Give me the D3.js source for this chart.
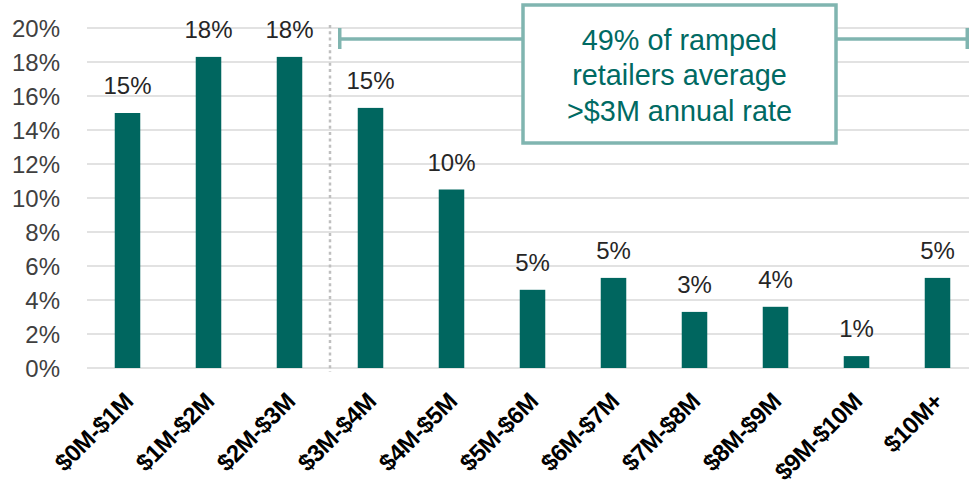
<!DOCTYPE html>
<html>
<head>
<meta charset="utf-8">
<script src="https://cdn.jsdelivr.net/npm/d3@7"></script>
<style>
  body { margin: 0; background: #fff; }
  svg { display: block; font-family: "Liberation Sans", Arial, sans-serif; }
</style>
</head>
<body>
<svg id="chart"></svg>
<script>
// revenue bands and share of ramped retailers
var categories = ["$0M-$1M", "$1M-$2M", "$2M-$3M", "$3M-$4M", "$4M-$5M", "$5M-$6M",
                  "$6M-$7M", "$7M-$8M", "$8M-$9M", "$9M-$10M", "$10M+"]
var shares = [0.150, 0.183, 0.183, 0.153, 0.105, 0.046, 0.053, 0.033, 0.036, 0.007, 0.053]
var shareLabels = ["15%", "18%", "18%", "15%", "10%", "5%", "5%", "3%", "4%", "1%", "5%"]
var yTicks = [0, 0.02, 0.04, 0.06, 0.08, 0.10, 0.12, 0.14, 0.16, 0.18, 0.20]
var calloutLines = ["49% of ramped", "retailers average", ">$3M annual rate"]

var dimensions = {
    width: 969,
    height: 487,
    margin: { top: 28, bottom: 119, left: 87, right: -9 }
}

var barColor = "#00665f"
var accent = "#80b5b0"

var svg = d3.select("#chart")
            .attr("width", dimensions.width)
            .attr("height", dimensions.height)

var xScale = d3.scaleBand()
               .domain(categories)
               .range([dimensions.margin.left, dimensions.width - dimensions.margin.right])
               .paddingInner(0.685)
               .paddingOuter(0.3425)
var yScale = d3.scaleLinear()
               .domain([0, 0.20])
               .range([dimensions.height - dimensions.margin.bottom, dimensions.margin.top])

// gridlines
svg.append("g")
   .selectAll("line")
   .data(yTicks)
   .enter()
   .append("line")
   .attr("x1", dimensions.margin.left)
   .attr("x2", dimensions.width)
   .attr("y1", d => yScale(d))
   .attr("y2", d => yScale(d))
   .attr("stroke", "#d9d9d9")
   .attr("stroke-width", 1.5)

// y axis labels
var yAxisGen = d3.axisLeft(yScale)
                 .tickValues(yTicks)
                 .tickFormat(d3.format(".0%"))
                 .tickSize(0)
                 .tickPadding(27)
var yAxis = svg.append("g")
               .attr("transform", `translate(${dimensions.margin.left},0)`)
               .call(yAxisGen)
yAxis.select(".domain").remove()
yAxis.selectAll("text")
     .attr("font-family", "Liberation Sans, Arial, sans-serif")
     .attr("font-size", 24)
     .attr("fill", "#404040")
     .attr("dy", "0.36em")

// divider between <$3M and >$3M
var split = categories.indexOf("$3M-$4M")
var dividerX = (xScale(categories[split - 1]) + xScale.bandwidth() + xScale(categories[split])) / 2
svg.append("line")
   .attr("x1", dividerX)
   .attr("x2", dividerX)
   .attr("y1", yScale(0.20) - 3)
   .attr("y2", yScale(0) + 4)
   .attr("stroke", "#bfbfbf")
   .attr("stroke-width", 2.5)
   .attr("stroke-dasharray", "3,3.3")

// bars
svg.append("g")
   .selectAll("rect")
   .data(shares)
   .enter()
   .append("rect")
   .attr("x", (d, i) => xScale(categories[i]))
   .attr("y", d => yScale(d))
   .attr("width", xScale.bandwidth())
   .attr("height", d => yScale(0) - yScale(d))
   .attr("fill", barColor)

// value labels
svg.append("g")
   .selectAll("text")
   .data(shares)
   .enter()
   .append("text")
   .attr("x", (d, i) => xScale(categories[i]) + xScale.bandwidth() / 2)
   .attr("y", d => yScale(d) - 19)
   .attr("text-anchor", "middle")
   .attr("font-size", 24)
   .attr("fill", "#262626")
   .text((d, i) => shareLabels[i])

// x axis labels
var xAxisGen = d3.axisBottom(xScale).tickSize(0)
var xAxis = svg.append("g")
               .attr("transform", `translate(0,${yScale(0)})`)
               .call(xAxisGen)
xAxis.select(".domain").remove()
xAxis.selectAll("text")
     .attr("font-family", "Liberation Sans, Arial, sans-serif")
     .attr("font-size", 24)
     .attr("font-weight", "bold")
     .attr("letter-spacing", -0.4)
     .attr("fill", "#000")
     .attr("text-anchor", "end")
     .attr("x", 0)
     .attr("y", 0)
     .attr("dy", 0)
     .attr("transform", "translate(7,35) rotate(-45)")

// bracket over the >$3M bands
var bracketY = 39
var bracketLeft = xScale(categories[split]) - 18
var bracketRight = xScale(categories[categories.length - 1]) + xScale.bandwidth() + 17
var bracket = svg.append("g")
                 .attr("stroke", accent)
                 .attr("stroke-width", 3.5)
bracket.append("line")
       .attr("x1", bracketLeft).attr("x2", bracketRight)
       .attr("y1", bracketY).attr("y2", bracketY)
bracket.append("line")
       .attr("x1", bracketLeft).attr("x2", bracketLeft)
       .attr("y1", bracketY - 11).attr("y2", bracketY + 10)
bracket.append("line")
       .attr("x1", bracketRight).attr("x2", bracketRight)
       .attr("y1", bracketY - 11).attr("y2", bracketY + 10)

// callout box
var box = { x: 523, y: 5, w: 313, h: 138 }
svg.append("rect")
   .attr("x", box.x)
   .attr("y", box.y)
   .attr("width", box.w)
   .attr("height", box.h)
   .attr("fill", "#fff")
   .attr("stroke", accent)
   .attr("stroke-width", 3.5)

svg.append("g")
   .selectAll("text")
   .data(calloutLines)
   .enter()
   .append("text")
   .attr("x", box.x + box.w / 2)
   .attr("y", (d, i) => 50 + i * 35.3)
   .attr("text-anchor", "middle")
   .attr("font-size", 28.8)
   .attr("fill", "#006a63")
   .text(d => d)
</script>
</body>
</html>
